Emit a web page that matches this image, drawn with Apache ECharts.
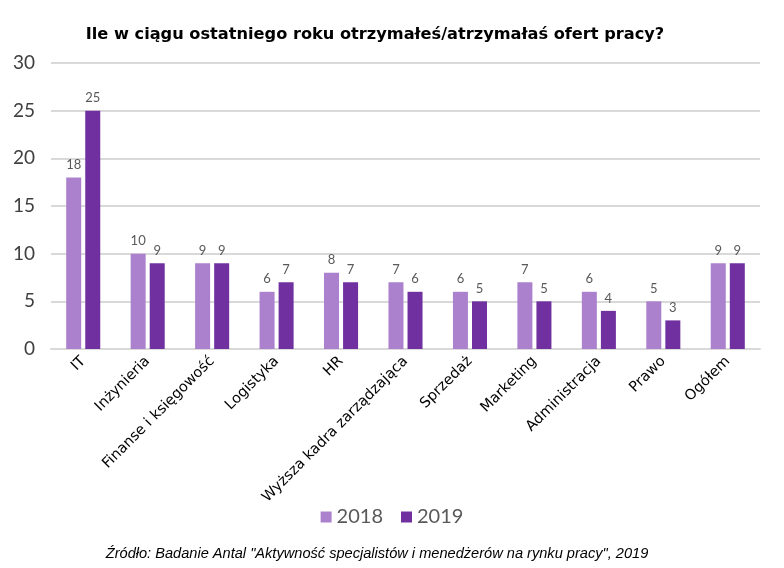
<!DOCTYPE html>
<html><head><meta charset="utf-8">
<script src="https://cdn.jsdelivr.net/npm/echarts@6/dist/echarts.min.js"></script>
<style>html,body{margin:0;padding:0;background:#fff}#c{width:784px;height:568px}</style>
</head><body><div id="c"></div>
<script>
const categories = ["IT","Inżynieria","Finanse i księgowość","Logistyka","HR","Wyższa kadra zarządzająca","Sprzedaż","Marketing","Administracja","Prawo","Ogółem"];
const values2018 = [18,10,9,6,8,7,6,7,6,5,9];
const values2019 = [25,9,9,7,7,6,5,5,4,3,9];
const seriesNames = ["2018","2019"];
const yTicks = [0,5,10,15,20,25,30];

const chart = echarts.init(document.getElementById('c'));
const font = "Lato, 'Noto Sans', sans-serif";
const labelStyle = {show:true, position:'top', color:'#595959', fontSize:13, fontFamily:font, distance:6};
chart.setOption({
  animation:false,
  title:[{text:"Ile w ciągu ostatniego roku otrzymałeś/atrzymałaś ofert pracy?", left:370, top:22, textAlign:'center',
    textStyle:{fontSize:16.2, fontWeight:'bold', color:'#000', fontFamily:"'DejaVu Sans', sans-serif"}},
    {text:'Źródło: Badanie Antal "Aktywność specjalistów i menedżerów na rynku pracy", 2019', left:372, top:541, textAlign:'center',
    textStyle:{fontSize:14.6, fontStyle:'italic', fontWeight:'normal', color:'#000', fontFamily:"'Liberation Sans', Arial, sans-serif"}}],
  legend:{data:seriesNames, left:'center', top:502, itemWidth:11, itemHeight:11, itemGap:18, icon:'rect',
    textStyle:{fontSize:20, color:'#595959', fontFamily:font}},
  grid:{left:51, right:24, top:63, bottom:219, containLabel:false},
  xAxis:{type:'category', data:categories,
    axisLine:{lineStyle:{color:'#d9d9d9', width:2}}, axisTick:{show:false},
    axisLabel:{rotate:45, interval:0, fontSize:14.5, color:'#000', fontFamily:"'DejaVu Sans', sans-serif", margin:10}},
  yAxis:{type:'value', min:0, max:30, interval:5,
    axisLine:{show:false}, axisTick:{show:false},
    splitLine:{lineStyle:{color:'#d9d9d9', width:2}},
    axisLabel:{fontSize:19, color:'#404040', fontFamily:font, margin:16}},
  series:[
    {name:seriesNames[0], type:'bar', data:values2018, barWidth:15, barGap:'27%', itemStyle:{color:'#AB80CC'}, label:labelStyle},
    {name:seriesNames[1], type:'bar', data:values2019, barWidth:15, itemStyle:{color:'#7030A0'}, label:labelStyle}
  ]
});
</script></body></html>
